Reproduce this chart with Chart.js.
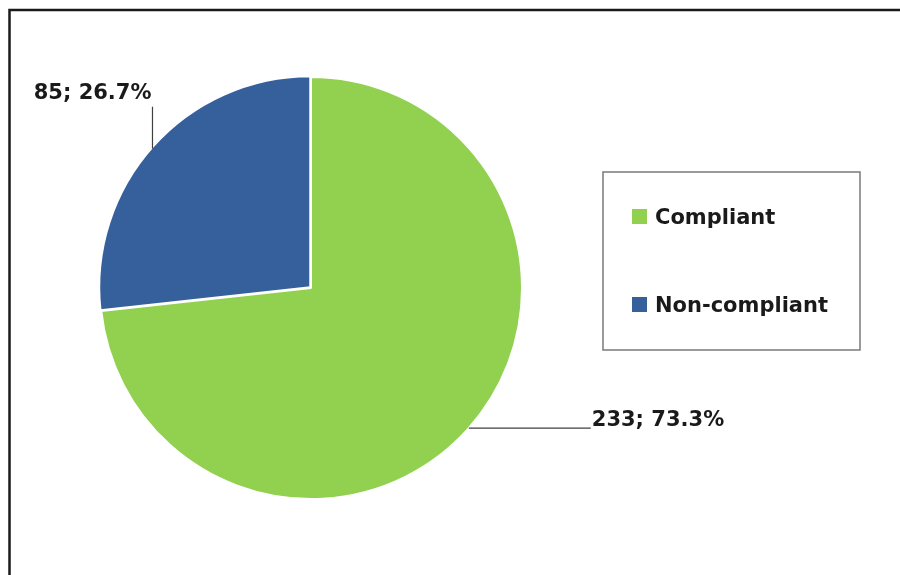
<!DOCTYPE html>
<html>
<head>
<meta charset="utf-8">
<script src="https://cdn.jsdelivr.net/npm/chart.js@4.4.0/dist/chart.umd.min.js"></script>
<style>
  html, body { margin: 0; padding: 0; background: #fff; }
  canvas { display: block; }
</style>
</head>
<body>
<canvas id="chart" width="900" height="575"></canvas>
<script>
const categories = ['Compliant', 'Non-compliant'];
const counts = [233, 85];
const percents = [73.3, 26.7];
const sliceColors = ['#92D050', '#36609C'];

const labelFont = 'bold 21px "DejaVu Sans", sans-serif';

// leader line for each slice: angle on the rim (degrees, canvas coords) and the run of the line
const leaders = [
  { angle: 41.6, dx: 122, dy: 0 },
  { angle: -138.7, dx: 0, dy: -42 }
];

// frame round the whole chart, only top and left edges fall inside the canvas
const framePlugin = {
  id: 'frame',
  beforeDraw(chart) {
    const ctx = chart.ctx;
    ctx.save();
    ctx.fillStyle = '#fff';
    ctx.fillRect(0, 0, chart.width, chart.height);
    ctx.strokeStyle = '#1a1a1a';
    ctx.lineWidth = 2.5;
    ctx.strokeRect(9.5, 10, chart.width + 20, chart.height + 20);
    ctx.restore();
  }
};

const sliceLabels = {
  id: 'sliceLabels',
  afterDatasetsDraw(chart) {
    const ctx = chart.ctx;
    const arcs = chart.getDatasetMeta(0).data;
    ctx.save();
    ctx.font = labelFont;
    ctx.fillStyle = '#1a1a1a';
    ctx.strokeStyle = '#404040';
    ctx.lineWidth = 1.2;
    arcs.forEach((arc, i) => {
      const a = leaders[i].angle * Math.PI / 180;
      const x0 = chart.chartArea.left + chart.chartArea.width / 2 + Math.cos(a) * arc.outerRadius;
      const y0 = chart.chartArea.top + chart.chartArea.height / 2 + Math.sin(a) * arc.outerRadius;
      const x1 = x0 + leaders[i].dx;
      const y1 = y0 + leaders[i].dy;
      ctx.beginPath();
      ctx.moveTo(x0, y0);
      ctx.lineTo(x1, y1);
      ctx.stroke();
      const text = counts[i] + '; ' + percents[i].toFixed(1) + '%';
      ctx.textBaseline = 'alphabetic';
      if (leaders[i].dy < 0) {
        ctx.textAlign = 'right';
        ctx.fillText(text, x1 - 1, y1 - 8);
      } else {
        ctx.textAlign = 'left';
        ctx.fillText(text, x1 + 1, y1 - 2);
      }
    });
    ctx.restore();
  }
};

// boxed legend to the right of the pie
const boxLegend = {
  id: 'boxLegend',
  afterDraw(chart) {
    const ctx = chart.ctx;
    const box = { x: 603, y: 172, w: 257, h: 178 };
    ctx.save();
    ctx.strokeStyle = '#7a7a7a';
    ctx.lineWidth = 1.5;
    ctx.strokeRect(box.x, box.y, box.w, box.h);
    ctx.font = labelFont;
    ctx.textBaseline = 'alphabetic';
    ctx.textAlign = 'left';
    categories.forEach((name, i) => {
      const base = box.y + 52 + i * 88;
      ctx.fillStyle = sliceColors[i];
      ctx.fillRect(box.x + 29, base - 15, 15, 15);
      ctx.fillStyle = '#1a1a1a';
      ctx.fillText(name, box.x + 52, base);
    });
    ctx.restore();
  }
};

new Chart(document.getElementById('chart'), {
  type: 'pie',
  data: {
    labels: categories,
    datasets: [{
      data: counts,
      backgroundColor: sliceColors,
      borderColor: '#ffffff',
      borderWidth: 2,
      offset: [0, 4]
    }]
  },
  options: {
    responsive: false,
    animation: false,
    layout: { padding: { left: 97, right: 375, top: 74, bottom: 73 } },
    plugins: {
      legend: { display: false },
      tooltip: { enabled: false }
    }
  },
  plugins: [framePlugin, sliceLabels, boxLegend]
});
</script>
</body>
</html>
